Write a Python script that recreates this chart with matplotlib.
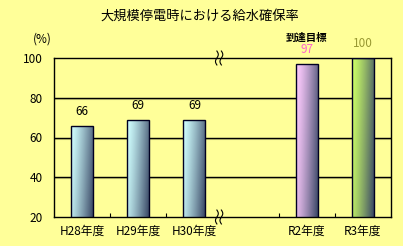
import numpy as np
import matplotlib.pyplot as plt
from matplotlib.colors import LinearSegmentedColormap

plt.rcParams['font.family'] = ['Noto Sans CJK JP', 'DejaVu Sans']

categories = ['H28年度', 'H29年度', 'H30年度', '', 'R2年度', 'R3年度']
values = [66, 69, 69, np.nan, 97, 100]
yticks = [20, 40, 60, 80, 100]
light_colors = ['#d0ffff', '#d0ffff', '#d0ffff', '#ffffff', '#ffccff', '#ccff66']
dark_color = '#3a4866'
label_colors = ['black', 'black', 'black', 'black', '#ff66cc', '#999933']
title = '大規模停電時における給水確保率'

BG = '#ffff99'

fig = plt.figure(figsize=(4.03, 2.46), dpi=100, facecolor=BG)
ax = fig.add_axes([54 / 403, 1 - 217 / 246, 337 / 403, 159 / 246])
ax.set_facecolor(BG)

x = np.arange(len(categories))

# grid lines with a soft shadow
for yv in [40, 60, 80]:
    ax.axhline(yv - 0.6, color='#d0d078', lw=1.5, zorder=1)
    ax.axhline(yv, color='black', lw=1.0, zorder=1)

bars = ax.bar(x, np.nan_to_num(values), width=0.39, bottom=0,
              facecolor='none', edgecolor='#000022', lw=1.0, zorder=3)

# diagonal gradient: light at top-left, dark at bottom-right
xf = np.linspace(0, 1, 40)[None, :]
yf = np.linspace(1, 0, 120)[:, None]
grad = 0.8 * xf + 0.2 * (1 - yf)
grad = np.clip(grad, 0, 1)

for i, b in enumerate(bars):
    if np.isnan(values[i]):
        continue
    cmap = LinearSegmentedColormap.from_list('g%d' % i, [light_colors[i], dark_color])
    x0 = b.get_x()
    x1 = x0 + b.get_width()
    im = ax.imshow(grad ** 1.3, cmap=cmap, aspect='auto', extent=(x0, x1, 20, values[i]),
                   zorder=2, interpolation='bilinear', vmin=0, vmax=1)
    im.set_clip_path(b)
    ax.text(x[i], min(values[i], 100) + 4, '%d' % values[i], ha='center', va='bottom',
            fontsize=8.5, color=label_colors[i], clip_on=False)

ax.text(x[4], 107.5, '到達目標', ha='center', va='bottom', fontsize=7.5,
        fontweight='bold', clip_on=False)

ax.set_xlim(-0.5, len(categories) - 0.5)
ax.set_ylim(20, 100)

ax.set_xticks([0.5, 1.5, 3.5, 4.5])
ax.set_xticklabels([])
ax.tick_params(axis='x', direction='in', length=3, width=0.8)
for i, c in enumerate(categories):
    ax.text(x[i], 16, c, ha='center', va='top', fontsize=8.5, clip_on=False)

ax.set_yticks(yticks)
ax.set_yticklabels([str(v) for v in yticks], fontsize=8.5)
ax.tick_params(axis='y', length=0, pad=8)

for s in ax.spines.values():
    s.set_color('black')
    s.set_linewidth(1.0)

# break marks
t = np.linspace(-1, 1, 30)
for yb in [100, 20]:
    for dx in [-0.05, 0.03]:
        xs = 2.45 + dx + 0.025 * np.sin(t * np.pi)
        ys = yb + t * 3.5
        ax.plot(xs, ys, color='black', lw=0.8, clip_on=False, zorder=5)

fig.text(200 / 403, 1 - 16 / 246, title, ha='center', va='center', fontsize=9.5)
fig.text(42 / 403, 1 - 39 / 246, '(%)', ha='center', va='center', fontsize=8.5)

fig.savefig('out.png', dpi=100, facecolor=BG)
